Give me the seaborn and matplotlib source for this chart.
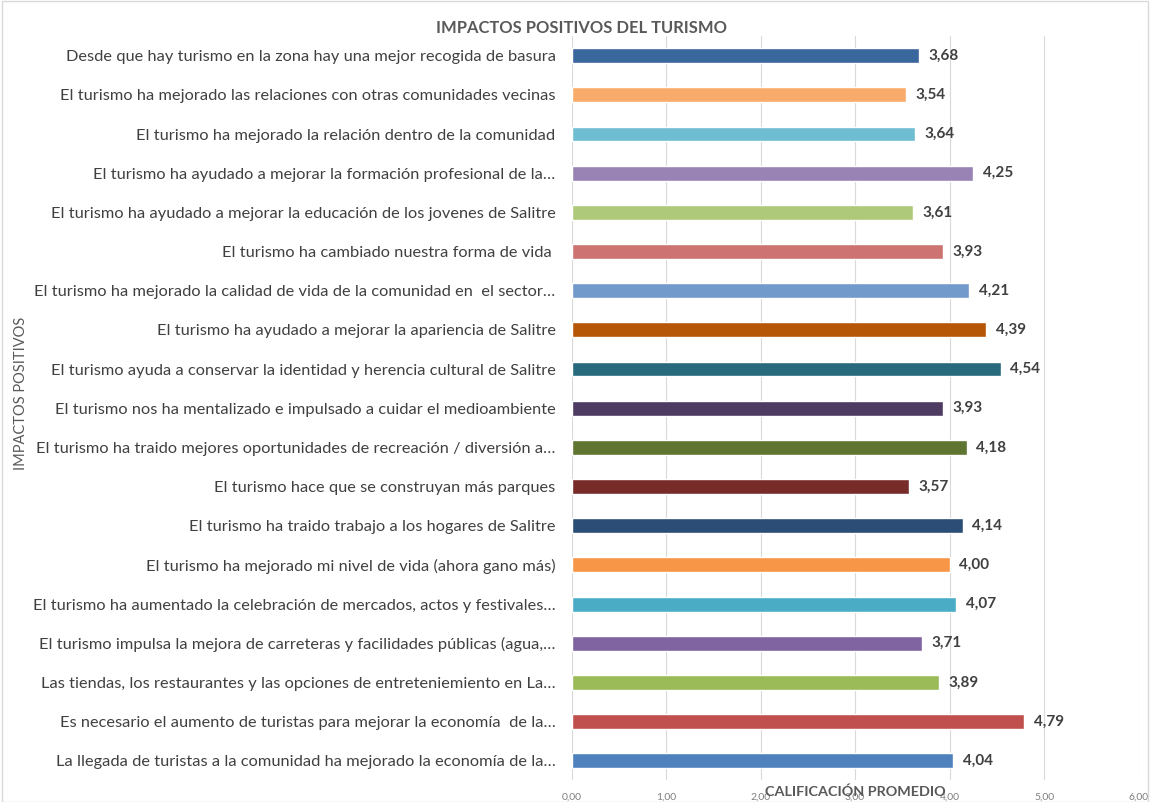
import matplotlib
matplotlib.use("Agg")
import matplotlib.pyplot as plt
import seaborn as sns
import pandas as pd

# ==========================================
# Data (top to bottom)
# ==========================================

impactos = [
    "Desde que hay turismo en la zona hay una mejor recogida de basura",
    "El turismo ha mejorado las relaciones con otras comunidades vecinas",
    "El turismo ha mejorado la relación dentro de la comunidad",
    "El turismo ha ayudado a mejorar la formación profesional de la…",
    "El turismo ha ayudado a mejorar la educación de los jovenes de Salitre",
    "El turismo ha cambiado nuestra forma de vida ",
    "El turismo ha mejorado la calidad de vida de la comunidad en  el sector…",
    "El turismo ha ayudado a mejorar la apariencia de Salitre",
    "El turismo ayuda a conservar la identidad y herencia cultural de Salitre",
    "El turismo nos ha mentalizado e impulsado a cuidar el medioambiente",
    "El turismo ha traido mejores oportunidades de recreación / diversión a…",
    "El turismo hace que se construyan más parques",
    "El turismo ha traido trabajo a los hogares de Salitre",
    "El turismo ha mejorado mi nivel de vida (ahora gano más)",
    "El turismo ha aumentado la celebración de mercados, actos y festivales…",
    "El turismo impulsa la mejora de carreteras y facilidades públicas (agua,…",
    "Las tiendas, los restaurantes y las opciones de entreteniemiento en La…",
    "Es necesario el aumento de turistas para mejorar la economía  de la…",
    "La llegada de turistas a la comunidad ha mejorado la economía de la…",
]

calificacion = [3.68, 3.54, 3.64, 4.25, 3.61, 3.93, 4.21, 4.39, 4.54, 3.93,
                4.18, 3.57, 4.14, 4.00, 4.07, 3.71, 3.89, 4.79, 4.04]

colores = ["#3A679C", "#F9AB6B", "#6FBDD1", "#9983B5", "#AFC97A", "#CD7371",
           "#729ACA", "#B65708", "#276A7C", "#4D3B62", "#5F7530", "#772C2A",
           "#2C4D75", "#F79646", "#4BACC6", "#8064A2", "#9BBB59", "#C0504D",
           "#4F81BD"]

x_ticks = [0, 1, 2, 3, 4, 5, 6]

df = pd.DataFrame({"impacto": impactos, "calificacion": calificacion})

# ==========================================
# Plot
# ==========================================

sns.set_theme(style="white")
plt.rcParams["font.family"] = ["Lato", "DejaVu Sans"]

fig = plt.figure(figsize=(11.5, 8.02), dpi=100)
ax = fig.add_axes([0.497, 0.027, 0.493, 0.928])

sns.barplot(
    data=df,
    x="calificacion",
    y="impacto",
    hue="impacto",
    palette=colores,
    order=impactos,
    hue_order=impactos,
    orient="h",
    width=0.38,
    saturation=1,
    legend=False,
    ax=ax,
)

for patch, val in zip(ax.patches, calificacion):
    w = patch.get_width()
    ax.text(
        w + 0.1, patch.get_y() + patch.get_height() / 2,
        f"{val:.2f}".replace(".", ","),
        va="center", ha="left", fontsize=11, fontweight="bold", color="#404040",
    )

ax.set_xlim(0, 6)
ax.set_xticks(x_ticks)
ax.set_xticklabels([f"{t:.2f}".replace(".", ",") for t in x_ticks],
                   fontsize=7.5, color="#7f7f7f")
ax.tick_params(axis="x", length=0, pad=9)
ax.tick_params(axis="y", length=0, pad=11.5, labelsize=11.8, labelcolor="#404040")
ax.xaxis.grid(True, color="#d9d9d9", linewidth=0.8)
ax.set_axisbelow(True)
for s in ax.spines.values():
    s.set_visible(False)

ax.set_ylabel("")
ax.set_xlabel("")
fig.text(0.7435, 0.0125, "CALIFICACIÓN PROMEDIO", ha="center", va="center",
         fontsize=10.4, fontweight="bold", color="#595959")
fig.text(0.018, 0.509, "IMPACTOS POSITIVOS", ha="center", va="center",
         rotation=90, fontsize=10.5, color="#595959")
fig.text(0.506, 0.965, "IMPACTOS POSITIVOS DEL TURISMO", ha="center",
         va="center", fontsize=11.9, fontweight="bold", color="#595959")

fig.patches.append(plt.Rectangle((0.002, 0.0), 0.996, 0.999,
                                 transform=fig.transFigure, fill=False,
                                 edgecolor="#d9d9d9", linewidth=1))

plt.savefig("out.png", dpi=100)
plt.close()
